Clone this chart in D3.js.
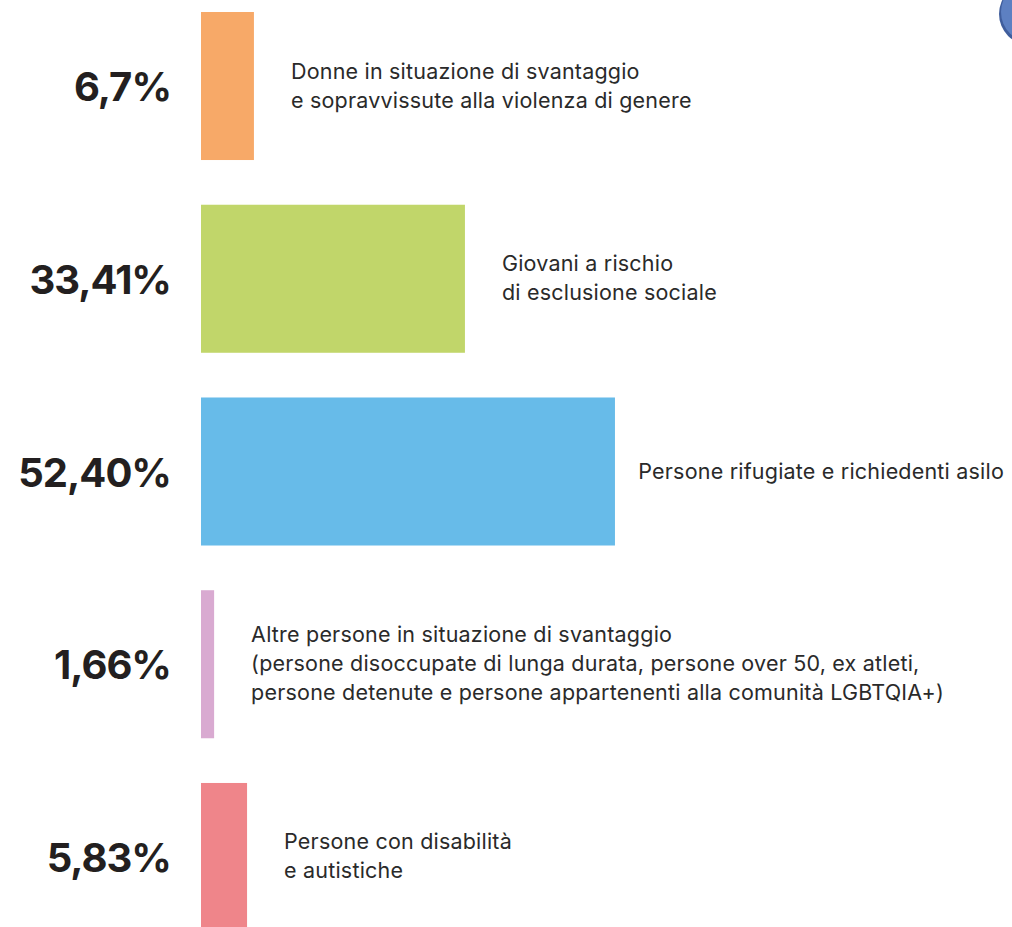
<!DOCTYPE html>
<html>
<head>
<meta charset="utf-8">
<script src="https://cdn.jsdelivr.net/npm/d3@7"></script>
<style>
  html, body { margin: 0; padding: 0; background: #fff; }
  svg { display: block; }
</style>
</head>
<body>
<svg id="chart" width="1012" height="927"></svg>
<script>
// Share of beneficiaries by target group
const groups = ["donne", "giovani", "rifugiati", "altre", "disabilita"];
const values = [6.7, 33.41, 52.40, 1.66, 5.83];
const valueLabels = ["6,7%", "33,41%", "52,40%", "1,66%", "5,83%"];
const descriptions = [
  ["Donne in situazione di svantaggio", "e sopravvissute alla violenza di genere"],
  ["Giovani a rischio", "di esclusione sociale"],
  ["Persone rifugiate e richiedenti asilo"],
  ["Altre persone in situazione di svantaggio",
   "(persone disoccupate di lunga durata, persone over 50, ex atleti,",
   "persone detenute e persone appartenenti alla comunità LGBTQIA+)"],
  ["Persone con disabilità", "e autistiche"]
];
const colors = ["#f7a968", "#c1d66a", "#67bbe9", "#d9aad1", "#ef858a"];

const W = 1012, H = 927;
const svg = d3.select("#chart");

const y = d3.scaleBand()
  .domain(groups)
  .range([12, 931])
  .paddingInner(0.232)
  .paddingOuter(0);

const x = d3.scaleLinear()
  .domain([0, 60])
  .range([201, 201 + 60 * 7.9]);

const color = d3.scaleOrdinal().domain(groups).range(colors);

const rows = groups.map((g, i) => ({
  key: g, value: values[i], label: valueLabels[i], desc: descriptions[i]
}));

// decorative bubble peeking in at the top-right corner
svg.append("circle")
  .attr("cx", 1030).attr("cy", 14).attr("r", 31)
  .attr("fill", "#3f5d9c");
svg.append("circle")
  .attr("cx", 1031).attr("cy", 12).attr("r", 30)
  .attr("fill", "#5d80c2");

const row = svg.selectAll("g.row")
  .data(rows)
  .join("g")
  .attr("class", "row");

row.append("rect")
  .attr("x", x(0))
  .attr("y", d => y(d.key))
  .attr("width", d => x(d.value) - x(0))
  .attr("height", y.bandwidth())
  .attr("fill", d => color(d.key));

row.append("text")
  .attr("x", 171)
  .attr("y", d => y(d.key) + y.bandwidth() / 2 + 15)
  .attr("text-anchor", "end")
  .attr("font-family", "Inter, 'Noto Sans', sans-serif")
  .attr("font-weight", 700)
  .attr("font-size", 40)
  .attr("letter-spacing", "-1")
  .attr("fill", "#231f20")
  .text(d => d.label);

const lineH = 29;
const desc = row.append("text")
  .attr("font-family", "Inter, 'Noto Sans', sans-serif")
  .attr("font-size", 21.5)
  .attr("letter-spacing", "0.2")
  .attr("fill", "#2a2a2a")
  .attr("y", d => y(d.key) + y.bandwidth() / 2 - (d.desc.length - 1) * lineH / 2 + 7);

desc.selectAll("tspan")
  .data(d => d.desc)
  .join("tspan")
  .attr("dy", (t, i) => i === 0 ? 0 : lineH)
  .text(t => t);

// place each description right of its bar, keeping it inside the canvas
desc.each(function(d) {
  const el = d3.select(this);
  const w = d3.max(el.selectAll("tspan").nodes(), n => n.getComputedTextLength());
  const px = Math.min(x(d.value) + 37, W - 8 - w);
  el.attr("x", px);
  el.selectAll("tspan").attr("x", px);
});
</script>
</body>
</html>
